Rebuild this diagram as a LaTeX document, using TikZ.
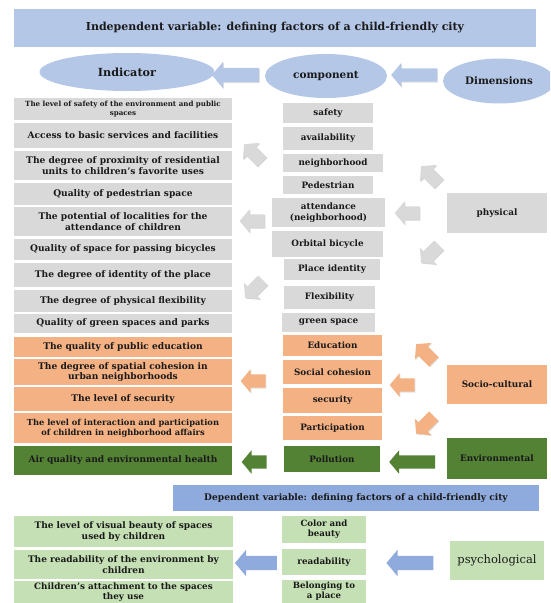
\documentclass[tikz,border=0pt]{standalone}
\usepackage{fontspec}
\setmainfont{DejaVu Serif}
\usetikzlibrary{shapes.geometric,shapes.arrows,shadows}
\definecolor{bannerblue}{HTML}{B4C7E7}
\definecolor{depblue}{HTML}{8FAADC}
\definecolor{boxgray}{HTML}{D9D9D9}
\definecolor{boxorange}{HTML}{F4B183}
\definecolor{boxgreen}{HTML}{548235}
\definecolor{lightgreen}{HTML}{C5E0B4}
\definecolor{textdark}{HTML}{1A1A1A}
\begin{document}
\begin{tikzpicture}[x=1pt,y=-1pt,
  box/.style={rectangle, inner sep=0pt, align=center, text=textdark,
    font=\bfseries\fontsize{9.1}{10.6}\selectfont},
  mbox/.style={font=\bfseries\fontsize{8.8}{10.4}\selectfont},
  gbox/.style={box, fill=boxgray},
  obox/.style={box, fill=boxorange},
  ebox/.style={box, fill=boxgreen},
  lbox/.style={box, fill=lightgreen},
  rbox/.style={font=\bfseries\fontsize{8.9}{11}\selectfont},
  ell/.style={ellipse, fill=bannerblue, inner sep=0pt, text=textdark},
  barrow/.style={single arrow, single arrow head extend=5pt, single arrow tip angle=100,
    inner xsep=0pt, inner ysep=6.5pt, minimum width=0pt, minimum height=25pt},
  grayarrow/.style={barrow, fill=boxgray, drop shadow={shadow xshift=0.8pt, shadow yshift=-0.8pt, opacity=0.35}},
  orarrow/.style={barrow, fill=boxorange, drop shadow={shadow xshift=0.8pt, shadow yshift=-0.8pt, opacity=0.25}},
  grarrow/.style={barrow, fill=boxgreen},
  blarrow/.style={barrow, fill=bannerblue, drop shadow={shadow xshift=0.8pt, shadow yshift=-0.8pt, opacity=0.25}},
  dbarrow/.style={barrow, fill=depblue}
]
\useasboundingbox (0,0) rectangle (550,603);
\clip (0,0) rectangle (550,603);

% banners
\node[box, fill=bannerblue, minimum width=522, minimum height=38,
  font=\bfseries\fontsize{11}{13}\selectfont] (top) at (275,28)
  {Independent variable: defining factors of a child-friendly city};

% ellipses
\node[ell, minimum width=175, minimum height=38, font=\bfseries\fontsize{11.2}{13}\selectfont] (indicator) at (127,72) {Indicator};
\node[ell, minimum width=122, minimum height=44, font=\bfseries\fontsize{10.5}{12}\selectfont] (component) at (326,76) {component};
\node[ell, minimum width=112, minimum height=45, font=\bfseries\fontsize{10.3}{12}\selectfont] (dimensions) at (499,81) {Dimensions};

\node[blarrow, rotate=180, minimum height=47, inner ysep=7pt, single arrow head extend=6pt] (a1) at (238.5,75) {};
\node[blarrow, rotate=180, minimum height=46, inner ysep=6.5pt, single arrow head extend=5.5pt] (a2) at (417,75) {};

% left column
\node[gbox, minimum width=218, minimum height=22, font=\bfseries\fontsize{7.1}{8.4}\selectfont] (l1) at (123,109)
  {The level of safety of the environment and public\\spaces};
\node[gbox, minimum width=218, minimum height=25] (l2) at (123,135.5) {Access to basic services and facilities};
\node[gbox, minimum width=218, minimum height=29] (l3) at (123,165.5) {The degree of proximity of residential\\units to children's favorite uses};
\node[gbox, minimum width=218, minimum height=22] (l4) at (123,194) {Quality of pedestrian space};
\node[gbox, minimum width=218, minimum height=29] (l5) at (123,221.5) {The potential of localities for the\\attendance of children};
\node[gbox, minimum width=218, minimum height=21] (l6) at (123,249.5) {Quality of space for passing bicycles};
\node[gbox, minimum width=218, minimum height=24] (l7) at (123,275) {The degree of identity of the place};
\node[gbox, minimum width=218, minimum height=22] (l8) at (123,301) {The degree of physical flexibility};
\node[gbox, minimum width=218, minimum height=19] (l9) at (123,323.5) {Quality of green spaces and parks};
\node[obox, minimum width=218, minimum height=20] (l10) at (123,347) {The quality of public education};
\node[obox, minimum width=218, minimum height=26, font=\bfseries\fontsize{9.1}{10.2}\selectfont] (l11) at (123,372) {The degree of spatial cohesion in\\urban neighborhoods};
\node[obox, minimum width=218, minimum height=24] (l12) at (123,399) {The level of security};
\node[obox, minimum width=218, minimum height=30, font=\bfseries\fontsize{8.3}{10}\selectfont] (l13) at (123,428) {The level of interaction and participation\\of children in neighborhood affairs};
\node[ebox, minimum width=218, minimum height=29] (l14) at (123,460.5) {Air quality and environmental health};

% middle column
\node[gbox, mbox, minimum width=90, minimum height=20] (m1) at (328,113) {safety};
\node[gbox, mbox, minimum width=90, minimum height=23] (m2) at (328,138.5) {availability};
\node[gbox, mbox, minimum width=100, minimum height=18] (m3) at (333,163) {neighborhood};
\node[gbox, mbox, minimum width=90, minimum height=18] (m4) at (328,185) {Pedestrian};
\node[gbox, mbox, minimum width=113, minimum height=29] (m5) at (328.5,212.5) {attendance\\(neighborhood)};
\node[gbox, mbox, minimum width=111, minimum height=26] (m6) at (327.5,244) {Orbital bicycle};
\node[gbox, mbox, minimum width=96, minimum height=21] (m7) at (332,269.5) {Place identity};
\node[gbox, mbox, minimum width=91, minimum height=23] (m8) at (329.5,297.5) {Flexibility};
\node[gbox, mbox, minimum width=93, minimum height=19] (m9) at (328.5,322.5) {green space};
\node[obox, mbox, minimum width=99, minimum height=21] (m10) at (332.5,345.5) {Education};
\node[obox, mbox, minimum width=99, minimum height=24] (m11) at (332.5,372) {Social cohesion};
\node[obox, mbox, minimum width=99, minimum height=25] (m12) at (332.5,400.5) {security};
\node[obox, mbox, minimum width=99, minimum height=24] (m13) at (332.5,428) {Participation};
\node[ebox, mbox, minimum width=96, minimum height=26] (m14) at (332,459) {Pollution};

% right column
\node[gbox, rbox, minimum width=100, minimum height=40] (physical) at (497,213) {physical};
\node[obox, rbox, minimum width=100, minimum height=39] (socio) at (497,384.5) {Socio-cultural};
\node[ebox, rbox, minimum width=100, minimum height=41] (env) at (497,458.5) {Environmental};

% gray arrows
\node[grayarrow, rotate=135] (g1) at (255,155) {};
\node[grayarrow, rotate=180] (g2) at (255,221) {};
\node[grayarrow, rotate=225] (g3) at (256,287) {};
\node[grayarrow, rotate=135] (g4) at (432,177) {};
\node[grayarrow, rotate=180] (g5) at (410,213) {};
\node[grayarrow, rotate=225] (g6) at (432,252) {};
% orange arrows
\node[orarrow, rotate=135] (o1) at (427,355) {};
\node[orarrow, rotate=180] (o2) at (405,385) {};
\node[orarrow, rotate=225] (o3) at (427,423) {};
\node[orarrow, rotate=180] (o4) at (256,381) {};
% green arrows
\node[grarrow, rotate=180] (e1) at (257,462) {};
\node[grarrow, rotate=180, minimum height=46] (e2) at (415,462) {};

% dependent banner
\node[box, fill=depblue, minimum width=366, minimum height=26,
  font=\bfseries\fontsize{9.1}{11}\selectfont] (dep) at (356,498)
  {Dependent variable: defining factors of a child-friendly city};

% bottom
\node[lbox, minimum width=219, minimum height=31, font=\bfseries\fontsize{9}{10.8}\selectfont] (b1) at (123.5,531.5) {The level of visual beauty of spaces\\used by children};
\node[lbox, minimum width=219, minimum height=29, font=\bfseries\fontsize{9}{10.8}\selectfont] (b2) at (123.5,564.5) {The readability of the environment by\\children};
\node[lbox, minimum width=219, minimum height=22, font=\bfseries\fontsize{8.8}{9.8}\selectfont] (b3) at (123.5,592) {Children's attachment to the spaces\\they use};
\node[lbox, minimum width=84, minimum height=27, font=\bfseries\fontsize{8.6}{9.8}\selectfont] (c1) at (324,529.5) {Color and\\beauty};
\node[lbox, mbox, minimum width=84, minimum height=26] (c2) at (324,562) {readability};
\node[lbox, minimum width=84, minimum height=23, font=\bfseries\fontsize{8.6}{9.8}\selectfont] (c3) at (324,591.5) {Belonging to\\a place};
\node[lbox, minimum width=94, minimum height=39, font=\fontsize{11.5}{13}\selectfont] (psych) at (497,560) {psychological};

\node[dbarrow, rotate=180, minimum height=47, inner ysep=7pt, single arrow head extend=6pt] (p1) at (413,563) {};
\node[dbarrow, rotate=180, minimum height=42, inner ysep=7pt, single arrow head extend=6pt] (p2) at (259,563) {};
\end{tikzpicture}
\end{document}
